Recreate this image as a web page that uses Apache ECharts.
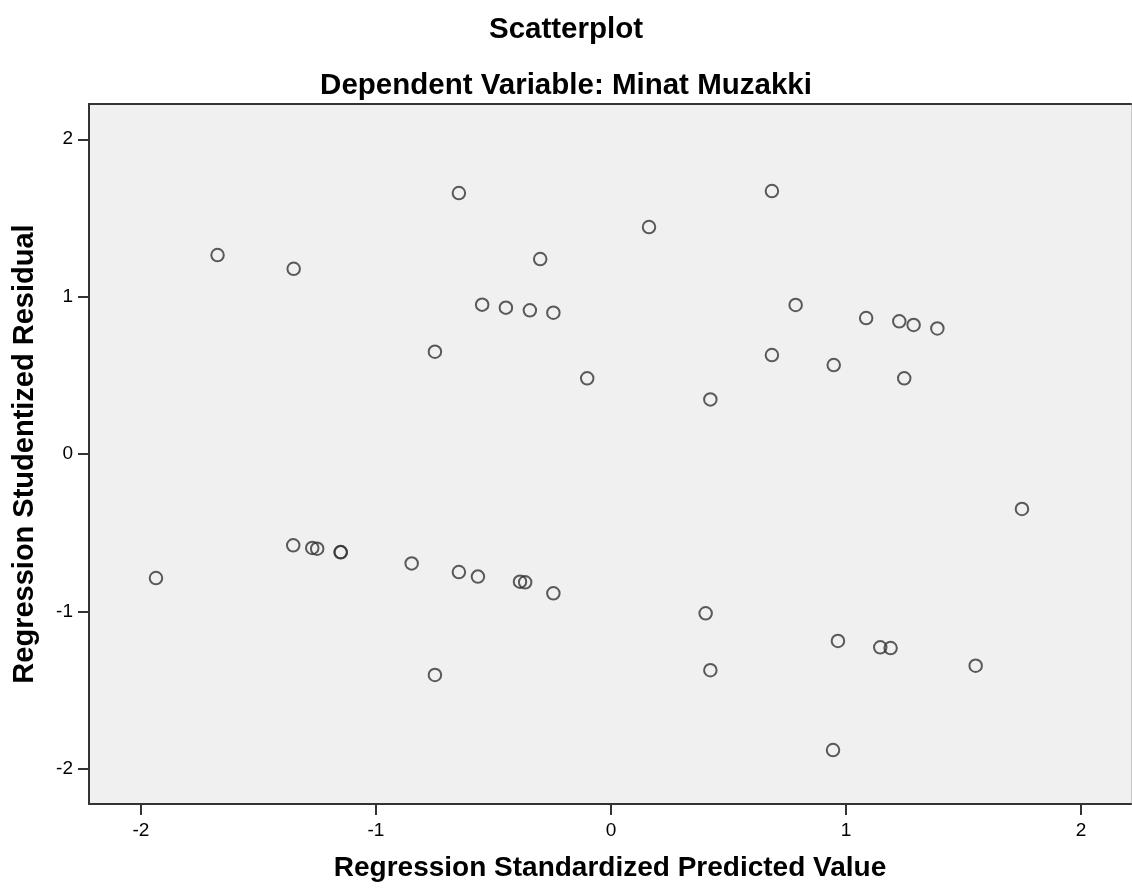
<!DOCTYPE html>
<html>
<head>
<meta charset="utf-8">
<title>Scatterplot</title>
<script src="https://cdn.jsdelivr.net/npm/echarts@6/dist/echarts.min.js"></script>
<style>
  html, body { margin: 0; padding: 0; background: #fff; }
  #chart { width: 1132px; height: 892px; }
</style>
</head>
<body>
<div id="chart"></div>
<script>
// Regression Standardized Predicted Value (x)
const predicted = [
  -1.674, -1.350, -0.647, -0.301, -0.548, -0.447, -0.345, -0.245, -0.749, -0.101,
  0.685, 0.162, 0.786, 1.086, 1.227, 1.288, 1.389, 0.685, 0.948, 1.248,
  0.423, 1.749, -1.936, -1.352, -1.271, -1.250, -1.150, -1.150, -0.848, -0.647,
  -0.566, -0.387, -0.365, -0.245, 0.403, 0.423, 0.966, 1.146, 1.190, 1.552,
  -0.749, 0.945
];
// Regression Studentized Residual (y)
const residual = [
  1.264, 1.177, 1.658, 1.239, 0.949, 0.930, 0.913, 0.898, 0.650, 0.481,
  1.671, 1.442, 0.947, 0.864, 0.843, 0.820, 0.798, 0.629, 0.565, 0.481,
  0.347, -0.349, -0.788, -0.580, -0.597, -0.602, -0.623, -0.625, -0.695, -0.750,
  -0.779, -0.811, -0.815, -0.885, -1.012, -1.374, -1.188, -1.228, -1.233, -1.345,
  -1.404, -1.881
];
const xTicks = [-2, -1, 0, 1, 2];
const yTicks = [-2, -1, 0, 1, 2];

const FONT = "'Liberation Sans', Arial, sans-serif";
const AXIS_COLOR = '#333';

const points = predicted.map((x, i) => [x, residual[i]]);

const chart = echarts.init(document.getElementById('chart'), null, { renderer: 'canvas' });

chart.setOption({
  backgroundColor: '#fff',
  animation: false,
  title: [
    {
      text: 'Scatterplot',
      left: 'center',
      top: 10,
      textStyle: { fontFamily: FONT, fontSize: 29.5, fontWeight: 'bold', color: '#000' }
    },
    {
      text: 'Dependent Variable: Minat Muzakki',
      left: 'center',
      top: 66,
      textStyle: { fontFamily: FONT, fontSize: 29.5, fontWeight: 'bold', color: '#000' }
    }
  ],
  grid: {
    left: 89,
    right: 1,
    top: 104,
    bottom: 88,
    show: true,
    backgroundColor: '#f0f0f0',
    borderWidth: 0
  },
  xAxis: [
    {
      type: 'value',
      min: -2.221,
      max: 2.213,
      name: 'Regression Standardized Predicted Value',
      nameLocation: 'middle',
      nameGap: 50,
      nameTextStyle: { fontFamily: FONT, fontSize: 28, fontWeight: 'bold', color: '#000' },
      splitLine: { show: false },
      axisLine: { show: true, onZero: false, lineStyle: { color: AXIS_COLOR, width: 2 } },
      axisTick: { show: true, length: 11, customValues: xTicks, lineStyle: { color: AXIS_COLOR, width: 2 } },
      axisLabel: {
        customValues: xTicks,
        margin: 17,
        fontFamily: FONT,
        fontSize: 19,
        color: '#000'
      }
    },
    {
      type: 'value',
      position: 'top',
      min: -2.221,
      max: 2.213,
      splitLine: { show: false },
      axisLine: { show: true, onZero: false, lineStyle: { color: AXIS_COLOR, width: 2 } },
      axisTick: { show: false },
      axisLabel: { show: false }
    }
  ],
  yAxis: [
    {
      type: 'value',
      min: -2.224,
      max: 2.224,
      name: 'Regression Studentized Residual',
      nameLocation: 'middle',
      nameGap: 50,
      nameTextStyle: { fontFamily: FONT, fontSize: 29, fontWeight: 'bold', color: '#000' },
      splitLine: { show: false },
      axisLine: { show: true, onZero: false, lineStyle: { color: AXIS_COLOR, width: 2 } },
      axisTick: { show: true, length: 11, customValues: yTicks, lineStyle: { color: AXIS_COLOR, width: 2 } },
      axisLabel: {
        customValues: yTicks,
        margin: 16,
        fontFamily: FONT,
        fontSize: 19,
        color: '#000'
      }
    },
    {
      type: 'value',
      position: 'right',
      min: -2.224,
      max: 2.224,
      splitLine: { show: false },
      axisLine: { show: true, onZero: false, lineStyle: { color: '#c8c8c8', width: 1 } },
      axisTick: { show: false },
      axisLabel: { show: false }
    }
  ],
  series: [
    {
      type: 'scatter',
      data: points,
      symbol: 'circle',
      symbolSize: 12.5,
      itemStyle: {
        color: 'rgba(0,0,0,0)',
        borderColor: '#333',
        borderWidth: 2
      }
    }
  ]
});
</script>
</body>
</html>
